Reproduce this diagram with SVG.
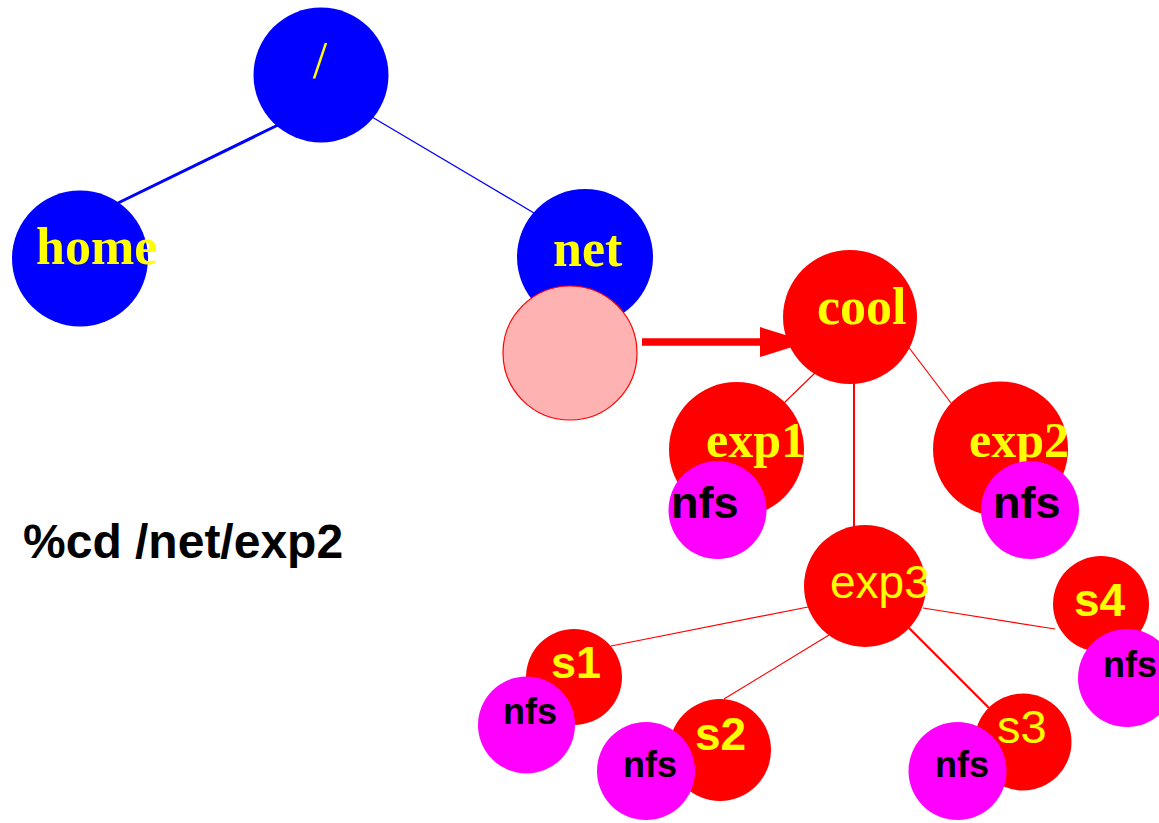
<svg xmlns="http://www.w3.org/2000/svg" width="1159" height="823" viewBox="0 0 1159 823">
<style>
.blue{fill:#0000ff}
.red{fill:#ff0000}
.mag{fill:#ff00ff}
.ser{font-family:"Liberation Serif","Times New Roman",serif;font-weight:bold;fill:#ffff00}
.sy{font-family:"Liberation Sans",Arial,sans-serif;font-weight:bold;fill:#ffff00}
.sr{font-family:"Liberation Sans",Arial,sans-serif;font-weight:normal;fill:#ffff00}
.nfs{font-family:"Liberation Sans",Arial,sans-serif;font-weight:bold;fill:#000000}
.bl{stroke:#0000ff;fill:none}
.rl{stroke:#ff0000;fill:none}
</style>
<rect width="1159" height="823" fill="#ffffff"/>
<g id="connectors">
<line class="bl" x1="118" y1="203" x2="278" y2="125" stroke-width="3"/>
<line class="bl" x1="372" y1="117" x2="534" y2="213" stroke-width="1.3"/>
<line class="rl" x1="816" y1="372" x2="784" y2="403" stroke-width="1.2"/>
<line class="rl" x1="907" y1="345" x2="951" y2="403" stroke-width="1.2"/>
<line class="rl" x1="854" y1="380" x2="854" y2="528" stroke-width="2"/>
<line class="rl" x1="808" y1="607" x2="611" y2="646" stroke-width="1.2"/>
<line class="rl" x1="829" y1="635" x2="724" y2="699" stroke-width="1.2"/>
<line class="rl" x1="909" y1="628" x2="989" y2="708" stroke-width="2.2"/>
<line class="rl" x1="923" y1="608" x2="1055" y2="629" stroke-width="1.2"/>
<line class="rl" x1="642" y1="342" x2="762" y2="342" stroke-width="7.5"/>
<polygon class="red" points="760,327 808,342 760,357"/>
</g>
<g id="root"><circle class="blue" cx="321" cy="75" r="67.5"/><text class="ser" style="font-weight:normal" x="320" y="78" font-size="52" text-anchor="middle">/</text></g>
<g id="home"><circle class="blue" cx="80" cy="258.5" r="68"/><text class="ser" x="36" y="264" font-size="52">home</text></g>
<g id="net"><circle class="blue" cx="585" cy="257" r="68"/><text class="ser" x="553" y="266" font-size="52">net</text></g>
<g id="mount"><circle cx="570" cy="353" r="67" fill="#ffb2b2" stroke="#ff0000" stroke-width="1.2"/></g>
<g id="cool"><circle class="red" cx="850" cy="317" r="67"/><text class="ser" x="817" y="324" font-size="52">cool</text></g>
<g id="exp1"><circle class="red" cx="736.5" cy="449.5" r="67.5"/><text class="ser" x="706" y="457" font-size="50">exp1</text></g>
<g id="nfs-exp1"><circle class="mag" cx="717.5" cy="510" r="49"/><text class="nfs" x="671" y="518" font-size="45">nfs</text></g>
<g id="exp2"><circle class="red" cx="1000.5" cy="449" r="67.5"/><text class="ser" x="969" y="457" font-size="50">exp2</text></g>
<g id="nfs-exp2"><circle class="mag" cx="1030" cy="510" r="49"/><text class="nfs" x="993" y="518" font-size="45">nfs</text></g>
<g id="exp3"><circle class="red" cx="865" cy="586" r="61"/><text class="sr" x="830" y="598" font-size="46">exp3</text></g>
<g id="s4"><circle class="red" cx="1101" cy="604" r="48"/><text class="sy" x="1074" y="616" font-size="46">s4</text></g>
<g id="nfs-s4"><circle class="mag" cx="1127" cy="678" r="49"/><text class="nfs" x="1103" y="677" font-size="36">nfs</text></g>
<g id="s1"><circle class="red" cx="574" cy="677" r="48"/><text class="sy" x="551" y="678" font-size="45">s1</text></g>
<g id="nfs-s1"><circle class="mag" cx="526.5" cy="725" r="48.5"/><text class="nfs" x="503" y="724" font-size="36">nfs</text></g>
<g id="s2"><circle class="red" cx="720" cy="750" r="51"/><text class="sy" x="695" y="750" font-size="46">s2</text></g>
<g id="nfs-s2"><circle class="mag" cx="646" cy="771" r="49"/><text class="nfs" x="623" y="777" font-size="36">nfs</text></g>
<g id="s3"><circle class="red" cx="1023" cy="742" r="48.5"/><text class="sr" x="997" y="743" font-size="47">s3</text></g>
<g id="nfs-s3"><circle class="mag" cx="957.5" cy="771" r="49"/><text class="nfs" x="935" y="777" font-size="36">nfs</text></g>
<g id="command"><text x="23" y="558" font-family="Liberation Sans, Arial, sans-serif" font-weight="bold" font-size="48" fill="#000000">%cd /net/exp2</text></g>
</svg>
